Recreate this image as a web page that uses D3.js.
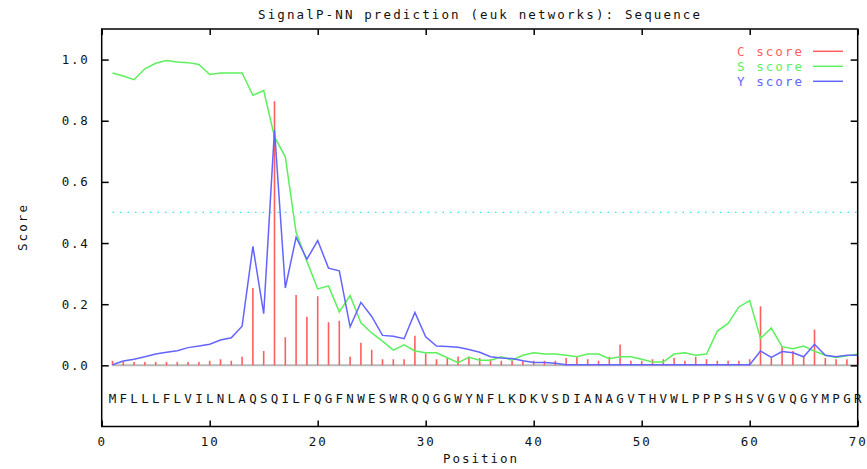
<!DOCTYPE html>
<html><head><meta charset="utf-8">
<script src="https://cdn.jsdelivr.net/npm/d3@7"></script>
<style>
body{margin:0;background:#fff;}
text{font-family:"DejaVu Sans Mono","Liberation Mono",monospace;}
</style></head>
<body><svg id="c" width="867" height="469"></svg>
<script>
const sequence = "MFLLLFLVILNLAQSQILFQGFNWESWRQQGGWYNFLKDKVSDIANAGVTHVWLPPPSHSVGVQGYMPGR";
const positions = d3.range(1, 71);
const cScore = [0.015,0.011,0.011,0.011,0.011,0.011,0.011,0.011,0.011,0.015,
 0.02,0.015,0.028,0.253,0.047,0.864,0.092,0.23,0.159,0.226,
 0.141,0.146,0.028,0.074,0.051,0.02,0.02,0.02,0.097,0.039,
 0.02,0.024,0.029,0.029,0.024,0.02,0.015,0.015,0.015,0.015,
 0.015,0.015,0.024,0.028,0.02,0.015,0.028,0.068,0.015,0.015,
 0.02,0.02,0.024,0.015,0.028,0.02,0.015,0.015,0.015,0.02,
 0.193,0.024,0.063,0.047,0.028,0.117,0.024,0.02,0.02,0.028];
const sScore = [0.956,0.946,0.934,0.97,0.988,0.997,0.992,0.99,0.984,0.951,
 0.956,0.956,0.956,0.883,0.899,0.747,0.682,0.435,0.34,0.25,
 0.26,0.175,0.228,0.139,0.106,0.079,0.05,0.067,0.047,0.041,
 0.041,0.025,0.009,0.026,0.017,0.017,0.028,0.017,0.033,0.041,
 0.037,0.037,0.033,0.028,0.037,0.037,0.022,0.028,0.028,0.02,
 0.011,0.011,0.037,0.041,0.033,0.037,0.112,0.137,0.191,0.212,
 0.088,0.122,0.061,0.054,0.063,0.046,0.033,0.026,0.031,0.037];
const yScore = [0.002,0.014,0.02,0.028,0.037,0.043,0.048,0.058,0.063,0.069,
 0.083,0.09,0.128,0.389,0.169,0.77,0.253,0.419,0.347,0.408,
 0.318,0.309,0.126,0.206,0.16,0.098,0.095,0.087,0.173,0.093,
 0.063,0.062,0.059,0.052,0.043,0.028,0.024,0.022,0.015,0.009,
 0.009,0.007,0.002,0.002,0.002,0.002,0.002,0.002,0.002,0.002,
 0.002,0.002,0.002,0.002,0.002,0.002,0.002,0.002,0.002,0.002,
 0.047,0.026,0.045,0.041,0.028,0.069,0.033,0.028,0.033,0.033];
const xTicks = [0,10,20,30,40,50,60,70];
const yTicks = [0,0.2,0.4,0.6,0.8,1.0];
const threshold = 0.5;
const seriesNames = ["C score","S score","Y score"];
const seriesColors = ["#ff5e5e","#5cf05c","#6464ff"];
const titleText = "SignalP-NN prediction (euk networks): Sequence";

const svg = d3.select("#c");
const L=101.7, R=857.7, T=29, B=426.5;
const x = d3.scaleLinear().domain([0,70]).range([L,R]);
const y = d3.scaleLinear().domain([-0.2,1.1]).range([B,T]);

// zero baseline
svg.append("line").attr("x1",x(1)).attr("x2",x(70)).attr("y1",y(0)).attr("y2",y(0))
  .attr("stroke","#b8b8b8").attr("stroke-width",2);
// threshold dotted
svg.append("line").attr("x1",x(1)).attr("x2",x(70)).attr("y1",y(threshold)).attr("y2",y(threshold))
  .attr("stroke","#30e8f0").attr("stroke-width",1.3).attr("stroke-dasharray","1.5,6");

// C impulses
svg.append("g").selectAll("line").data(positions).join("line")
  .attr("x1",d=>x(d)).attr("x2",d=>x(d)).attr("y1",y(0)).attr("y2",(d,i)=>y(cScore[i]))
  .attr("stroke",seriesColors[0]).attr("stroke-width",1.6);
const line = arr => d3.line().x((d,i)=>x(positions[i])).y(d=>y(d))(arr);
svg.append("path").attr("d",line(sScore)).attr("fill","none").attr("stroke",seriesColors[1]).attr("stroke-width",1.5);
svg.append("path").attr("d",line(yScore)).attr("fill","none").attr("stroke",seriesColors[2]).attr("stroke-width",1.5);

// sequence letters
svg.append("g").selectAll("text").data(sequence.split("")).join("text")
  .attr("x",(d,i)=>x(i+1)).attr("y",398).attr("text-anchor","middle").attr("dominant-baseline","central")
  .attr("font-size",12.5).attr("fill","#111").text(d=>d);

// axes
const ax = (g)=>{g.selectAll(".domain").remove();};
svg.append("g").attr("transform",`translate(0,${B})`)
  .call(d3.axisBottom(x).tickValues(xTicks).tickSizeInner(-6).tickSizeOuter(0).tickPadding(11).tickFormat(d3.format("d")))
  .call(ax);
svg.append("g").attr("transform",`translate(0,${T})`)
  .call(d3.axisTop(x).tickValues(xTicks).tickSizeInner(-6).tickSizeOuter(0).tickFormat(""))
  .call(ax);
svg.append("g").attr("transform",`translate(${L},0)`)
  .call(d3.axisLeft(y).tickValues(yTicks).tickSizeInner(-7).tickSizeOuter(0).tickPadding(12).tickFormat(d3.format(".1f")))
  .call(ax);
svg.append("g").attr("transform",`translate(${R},0)`)
  .call(d3.axisRight(y).tickValues(yTicks).tickSizeInner(-7).tickSizeOuter(0).tickFormat(""))
  .call(ax);
svg.selectAll(".tick line").attr("stroke","#000").attr("stroke-width",1.5);
svg.selectAll(".tick text").attr("font-family","DejaVu Sans Mono, monospace").attr("font-size",12.5).attr("fill","#111")
  .attr("letter-spacing",1.8);
svg.append("rect").attr("x",L).attr("y",T).attr("width",R-L).attr("height",B-T)
  .attr("fill","none").attr("stroke","#000").attr("stroke-width",1.5);

// title and labels
svg.append("text").attr("x",479).attr("y",14).attr("text-anchor","middle").attr("dominant-baseline","central")
  .attr("font-size",12.5).attr("textLength",442).attr("lengthAdjust","spacing").attr("fill","#111").text(titleText);
svg.append("text").attr("x",480).attr("y",458.5).attr("text-anchor","middle").attr("dominant-baseline","central")
  .attr("font-size",12.5).attr("textLength",74).attr("lengthAdjust","spacing").attr("fill","#111").text("Position");
svg.append("text").attr("transform","translate(22,228) rotate(-90)").attr("text-anchor","middle").attr("dominant-baseline","central")
  .attr("font-size",12.5).attr("textLength",46).attr("lengthAdjust","spacing").attr("fill","#111").text("Score");

// legend
const lg = svg.append("g");
seriesNames.forEach((n,i)=>{
  const yy = 51.3 + i*15;
  lg.append("text").attr("x",802).attr("y",yy).attr("text-anchor","end").attr("dominant-baseline","central")
    .attr("font-size",12.5).attr("textLength",65).attr("lengthAdjust","spacing").attr("fill",seriesColors[i]).text(n);
  lg.append("line").attr("x1",813).attr("x2",843).attr("y1",yy).attr("y2",yy)
    .attr("stroke",seriesColors[i]).attr("stroke-width",1.5);
});
</script></body></html>
